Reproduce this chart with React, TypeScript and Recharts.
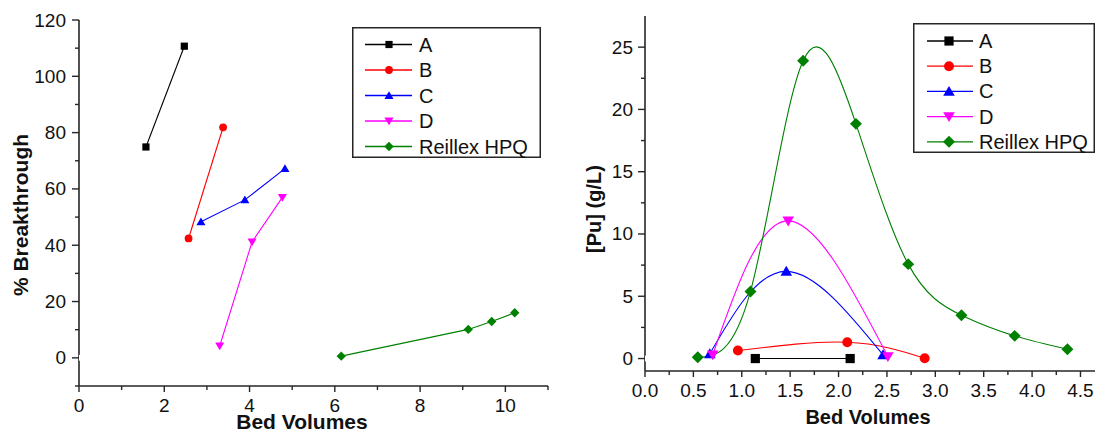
import React from 'react';
import { ComposedChart, Line, XAxis, YAxis, Legend } from 'recharts';

const FONT = '"Liberation Sans", Arial, Helvetica, sans-serif';
const AXIS = '#262626';

type Pt = { x: number; y: number };

// Series meta
const seriesNames = ['A', 'B', 'C', 'D', 'Reillex HPQ'];
const seriesColors = ['#000000', '#ff0000', '#0000ff', '#ff00ff', '#008000'];
const seriesShapes = ['square', 'circle', 'triangle', 'invTriangle', 'diamond'];

// Left chart: % Breakthrough vs Bed Volumes
const breakA: Pt[] = [{ x: 1.57, y: 74.9 }, { x: 2.47, y: 110.7 }];
const breakB: Pt[] = [{ x: 2.57, y: 42.4 }, { x: 3.38, y: 81.9 }];
const breakC: Pt[] = [{ x: 2.86, y: 48.3 }, { x: 3.89, y: 56.1 }, { x: 4.83, y: 67.2 }];
const breakD: Pt[] = [{ x: 3.3, y: 4.2 }, { x: 4.06, y: 41.2 }, { x: 4.77, y: 57.0 }];
const breakR: Pt[] = [{ x: 6.15, y: 0.6 }, { x: 9.13, y: 10.1 }, { x: 9.68, y: 12.9 }, { x: 10.22, y: 16.0 }];

// Right chart: [Pu] (g/L) vs Bed Volumes
const puA: Pt[] = [{ x: 1.14, y: 0 }, { x: 2.12, y: 0 }];
const puB: Pt[] = [{ x: 0.96, y: 0.64 }, { x: 2.09, y: 1.31 }, { x: 2.89, y: 0.03 }];
const puC: Pt[] = [{ x: 0.67, y: 0.38 }, { x: 1.46, y: 7.0 }, { x: 2.46, y: 0.3 }];
const puD: Pt[] = [{ x: 0.7, y: 0.3 }, { x: 1.48, y: 11.05 }, { x: 2.51, y: 0.16 }];
const puR: Pt[] = [
  { x: 0.545, y: 0.1 }, { x: 1.09, y: 5.39 }, { x: 1.634, y: 23.9 }, { x: 2.18, y: 18.84 },
  { x: 2.72, y: 7.58 }, { x: 3.27, y: 3.48 }, { x: 3.82, y: 1.82 }, { x: 4.365, y: 0.75 },
];

// Ticks
const leftXTicks = [0, 1, 2, 3, 4, 5, 6, 7, 8, 9, 10, 11];
const leftXMajor = [0, 2, 4, 6, 8, 10];
const leftYTicks = [-10, 0, 10, 20, 30, 40, 50, 60, 70, 80, 90, 100, 110, 120];
const leftYMajor = [0, 20, 40, 60, 80, 100, 120];
const rightXTicks = [0, 0.25, 0.5, 0.75, 1, 1.25, 1.5, 1.75, 2, 2.25, 2.5, 2.75, 3, 3.25, 3.5, 3.75, 4, 4.25, 4.5];
const rightXMajor = [0, 0.5, 1, 1.5, 2, 2.5, 3, 3.5, 4, 4.5];
const rightYTicks = [0, 2.5, 5, 7.5, 10, 12.5, 15, 17.5, 20, 22.5, 25];
const rightYMajor = [0, 5, 10, 15, 20, 25];

const isMajor = (majors: number[], v: number) => majors.some((m) => Math.abs(m - v) < 1e-9);

function Marker({ cx, cy, shape, color, h }: any) {
  if (cx == null || cy == null || isNaN(cx) || isNaN(cy)) return null;
  if (shape === 'square') return <rect x={cx - h} y={cy - h} width={2 * h} height={2 * h} fill={color} />;
  if (shape === 'circle') return <circle cx={cx} cy={cy} r={h * 1.08} fill={color} />;
  if (shape === 'triangle') {
    const a = h * 1.2;
    return <polygon points={`${cx},${cy - a} ${cx - a * 1.05},${cy + a * 0.8} ${cx + a * 1.05},${cy + a * 0.8}`} fill={color} />;
  }
  if (shape === 'invTriangle') {
    const a = h * 1.2;
    return <polygon points={`${cx},${cy + a} ${cx - a * 1.05},${cy - a * 0.8} ${cx + a * 1.05},${cy - a * 0.8}`} fill={color} />;
  }
  const d = h * 1.3;
  return <polygon points={`${cx},${cy - d} ${cx + d},${cy} ${cx},${cy + d} ${cx - d},${cy}`} fill={color} />;
}

const makeDot = (shape: string, color: string, h: number) => (props: any) => (
  <Marker key={`dot-${props.index}`} cx={props.cx} cy={props.cy} shape={shape} color={color} h={h} />
);

const makeBottomTick = (plotBottom: number, majors: number[], fmt: (v: number) => string) => (props: any) => {
  const { x, payload } = props;
  const v = payload.value;
  const major = isMajor(majors, v);
  return (
    <g>
      <line x1={x} x2={x} y1={plotBottom} y2={plotBottom + (major ? 6 : 4)} stroke={AXIS} strokeWidth={1.4} />
      {major && (
        <text x={x} y={plotBottom + 19} textAnchor="middle" dominantBaseline="central" fontSize={19} fontFamily={FONT} fill="#111">
          {fmt(v)}
        </text>
      )}
    </g>
  );
};

const makeTopTick = (plotTop: number, majors: number[]) => (props: any) => {
  const { x, payload } = props;
  const major = isMajor(majors, payload.value);
  return <line x1={x} x2={x} y1={plotTop} y2={plotTop + (major ? 5 : 3)} stroke={AXIS} strokeWidth={1.3} />;
};

const makeLeftTick = (plotLeft: number, majors: number[], gap: number) => (props: any) => {
  const { y, payload } = props;
  const v = payload.value;
  const major = isMajor(majors, v);
  return (
    <g>
      <line x1={plotLeft - (major ? 7 : 4)} x2={plotLeft} y1={y} y2={y} stroke={AXIS} strokeWidth={1.4} />
      {major && (
        <text x={plotLeft - gap} y={y} textAnchor="end" dominantBaseline="central" fontSize={19} fontFamily={FONT} fill="#111">
          {String(v)}
        </text>
      )}
    </g>
  );
};

const makeRightTick = (plotRight: number, majors: number[]) => (props: any) => {
  const { y, payload } = props;
  const major = isMajor(majors, payload.value);
  return <line x1={plotRight - (major ? 5 : 3)} x2={plotRight} y1={y} y2={y} stroke={AXIS} strokeWidth={1.3} />;
};

function AxisTitle({ tx, ty, text, rot, fs }: any) {
  return (
    <text
      x={tx}
      y={ty}
      textAnchor="middle"
      dominantBaseline="central"
      fontSize={fs || 20}
      fontWeight="bold"
      fontFamily={FONT}
      fill="#111"
      transform={rot ? `rotate(-90 ${tx} ${ty})` : undefined}
    >
      {text}
    </text>
  );
}

function LegendBox({ w, h, h0, step, lineX1, lineX2, markX, textX, mh }: any) {
  return (
    <svg width={w} height={h} style={{ display: 'block' }}>
      <rect x={0.75} y={0.75} width={w - 1.5} height={h - 1.5} fill="#fff" stroke={AXIS} strokeWidth={1.5} />
      {seriesNames.map((name, i) => {
        const y = h0 + i * step;
        return (
          <g key={name}>
            <line x1={lineX1} x2={lineX2} y1={y} y2={y} stroke={seriesColors[i]} strokeWidth={1.3} />
            <Marker cx={markX} cy={y} shape={seriesShapes[i]} color={seriesColors[i]} h={mh} />
            <text x={textX} y={y} dominantBaseline="central" fontSize={20} fontFamily={FONT} fill="#111">
              {name}
            </text>
          </g>
        );
      })}
    </svg>
  );
}

function LeftChart() {
  const series = [breakA, breakB, breakC, breakD, breakR];
  const plotLeft = 79, plotRight = 548, plotTop = 20, plotBottom = 386;
  return (
    <ComposedChart width={560} height={437} margin={{ top: plotTop, right: 560 - plotRight, bottom: 0, left: 0 }}>
      <XAxis
        xAxisId="b" type="number" dataKey="x" domain={[0, 11]} ticks={leftXTicks} interval={0} height={51}
        axisLine={{ stroke: AXIS, strokeWidth: 1.6 }} tickLine={false}
        tick={makeBottomTick(plotBottom, leftXMajor, (v) => String(v))}
        label={<AxisTitle tx={302} ty={421} text="Bed Volumes" fs={21} />}
        allowDataOverflow
      />
      <XAxis
        xAxisId="t" orientation="top" type="number" dataKey="x" domain={[0, 11]} ticks={leftXTicks} interval={0} height={0}
        axisLine={{ stroke: AXIS, strokeWidth: 1.6 }} tickLine={false} tick={makeTopTick(plotTop, leftXMajor)} allowDataOverflow
      />
      <YAxis
        yAxisId="l" type="number" domain={[-10, 120]} ticks={leftYTicks} interval={0} width={plotLeft}
        axisLine={{ stroke: AXIS, strokeWidth: 1.6 }} tickLine={false}
        tick={makeLeftTick(plotLeft, leftYMajor, 13)}
        label={<AxisTitle tx={20} ty={215} text="% Breakthrough" rot fs={21} />}
        allowDataOverflow
      />
      <YAxis
        yAxisId="r" orientation="right" type="number" domain={[-10, 120]} ticks={leftYTicks} interval={0} width={0}
        axisLine={{ stroke: AXIS, strokeWidth: 1.6 }} tickLine={false} tick={makeRightTick(plotRight, leftYMajor)} allowDataOverflow
      />
      {series.map((d, i) => (
        <Line
          key={seriesNames[i]} name={seriesNames[i]} xAxisId="b" yAxisId="l" data={d} dataKey="y" type="linear"
          stroke={seriesColors[i]} strokeWidth={1.1} dot={makeDot(seriesShapes[i], seriesColors[i], 3.6)}
          activeDot={false} isAnimationActive={false}
        />
      ))}
      <Line xAxisId="t" yAxisId="r" data={[{ x: 0, y: 0 }]} dataKey="y" stroke="none" dot={false} legendType="none" isAnimationActive={false} />
      <Legend
        layout="vertical" align="center" verticalAlign="middle"
        wrapperStyle={{ position: 'absolute', left: 352, top: 27, width: 189, height: 131 }}
        content={() => <LegendBox w={189} h={131} h0={17.5} step={25.5} lineX1={13} lineX2={60} markX={37} textX={67} mh={3.6} />}
      />
    </ComposedChart>
  );
}

function RightChart() {
  const series = [puA, puB, puC, puD, puR];
  const plotLeft = 85, plotRight = 535, plotTop = 16, plotBottom = 371;
  return (
    <ComposedChart width={537} height={437} margin={{ top: plotTop, right: 537 - plotRight, bottom: 0, left: 0 }}>
      <XAxis
        xAxisId="b" type="number" dataKey="x" domain={[0, 4.65]} ticks={rightXTicks} interval={0} height={437 - plotBottom}
        axisLine={{ stroke: AXIS, strokeWidth: 1.6 }} tickLine={false}
        tick={makeBottomTick(plotBottom, rightXMajor, (v) => v.toFixed(1))}
        label={<AxisTitle tx={308} ty={417} text="Bed Volumes" fs={20} />}
        allowDataOverflow
      />
      <XAxis
        xAxisId="t" orientation="top" type="number" dataKey="x" domain={[0, 4.65]} ticks={rightXTicks} interval={0} height={0}
        axisLine={{ stroke: AXIS, strokeWidth: 1.6 }} tickLine={false} tick={makeTopTick(plotTop, rightXMajor)} allowDataOverflow
      />
      <YAxis
        yAxisId="l" type="number" domain={[-1, 27.5]} ticks={rightYTicks} interval={0} width={plotLeft}
        axisLine={{ stroke: AXIS, strokeWidth: 1.6 }} tickLine={false}
        tick={makeLeftTick(plotLeft, rightYMajor, 12)}
        label={<AxisTitle tx={34} ty={209} text="[Pu] (g/L)" rot fs={20} />}
        allowDataOverflow
      />
      <YAxis
        yAxisId="r" orientation="right" type="number" domain={[-1, 27.5]} ticks={rightYTicks} interval={0} width={0}
        axisLine={{ stroke: AXIS, strokeWidth: 1.6 }} tickLine={false} tick={makeRightTick(plotRight, rightYMajor)} allowDataOverflow
      />
      {series.map((d, i) => (
        <Line
          key={seriesNames[i]} name={seriesNames[i]} xAxisId="b" yAxisId="l" data={d} dataKey="y" type="natural"
          stroke={seriesColors[i]} strokeWidth={1.1} dot={makeDot(seriesShapes[i], seriesColors[i], 4.6)}
          activeDot={false} isAnimationActive={false}
        />
      ))}
      <Line xAxisId="t" yAxisId="r" data={[{ x: 0, y: 0 }]} dataKey="y" stroke="none" dot={false} legendType="none" isAnimationActive={false} />
      <Legend
        layout="vertical" align="center" verticalAlign="middle"
        wrapperStyle={{ position: 'absolute', left: 353, top: 23, width: 182, height: 130 }}
        content={() => <LegendBox w={182} h={130} h0={18} step={25.2} lineX1={14} lineX2={60} markX={36} textX={66} mh={4.6} />}
      />
    </ComposedChart>
  );
}

export default function App() {
  return (
    <div style={{ position: 'absolute', left: 0, top: 0, width: 1097, height: 437, background: '#fff', fontFamily: FONT }}>
      <div style={{ position: 'absolute', left: 0, top: 0 }}>
        <LeftChart />
      </div>
      <div style={{ position: 'absolute', left: 560, top: 0 }}>
        <RightChart />
      </div>
    </div>
  );
}
